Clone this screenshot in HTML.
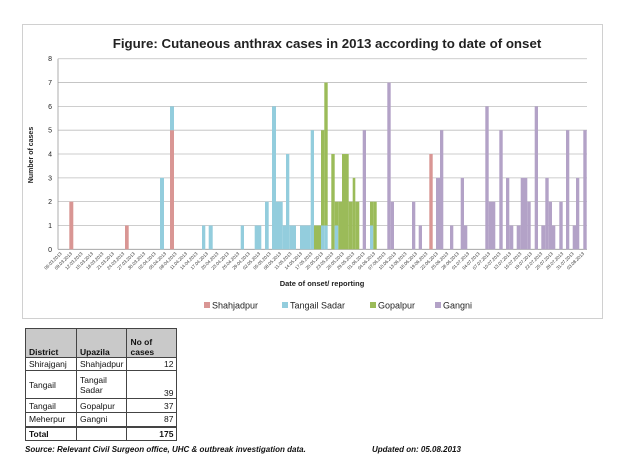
<!DOCTYPE html>
<html><head><meta charset="utf-8"><style>
body{margin:0;width:629px;height:469px;background:#fff;font-family:"Liberation Sans",sans-serif;position:relative;overflow:hidden}
table{position:absolute;left:25px;top:328px;border-collapse:collapse;font-size:8.5px;color:#111}
td{border:1px solid #444;padding:0 3px;vertical-align:middle}
.ft{position:absolute;top:445px;font-size:8px;font-weight:bold;font-style:italic;color:#111}
</style></head><body>
<svg id="s" width="629" height="330" style="position:absolute;left:0;top:0" font-family="Liberation Sans, sans-serif">
<rect x="22.5" y="24.5" width="580" height="294" fill="#fff" stroke="#d0d0d0"/>
<text x="327" y="48" text-anchor="middle" font-size="13.3" font-weight="bold" fill="#222">Figure: Cutaneous anthrax cases in 2013 according to date of onset</text>
<text transform="translate(33,155) rotate(-90)" text-anchor="middle" font-size="7" font-weight="bold" fill="#222">Number of cases</text>
<text x="322" y="286" text-anchor="middle" font-size="7.5" font-weight="bold" fill="#222">Date of onset/ reporting</text>
<g font-size="9" fill="#222">
<rect x="204" y="302" width="6" height="6" fill="#d99694"/><text x="212" y="308.5">Shahjadpur</text>
<rect x="282" y="302" width="6" height="6" fill="#93cddd"/><text x="290" y="308.5">Tangail Sadar</text>
<rect x="370" y="302" width="6" height="6" fill="#9bbb59"/><text x="378" y="308.5">Gopalpur</text>
<rect x="435" y="302" width="6" height="6" fill="#b3a2c7"/><text x="443" y="308.5">Gangni</text>
</g>
<g id="g"></g><g id="b"></g><g id="xl" font-size="4.5" fill="#333"></g>
</svg>
<table>
<tr style="background:#c9c9c9;font-weight:bold;height:29px"><td style="width:44px;vertical-align:bottom">District</td><td style="width:42px;vertical-align:bottom">Upazila</td><td style="width:43px;vertical-align:bottom">No of<br>cases</td></tr>
<tr style="height:13px"><td>Shirajganj</td><td>Shahjadpur</td><td style="text-align:right">12</td></tr>
<tr style="height:28px"><td>Tangail</td><td>Tangail<br>Sadar</td><td style="text-align:right;vertical-align:bottom">39</td></tr>
<tr style="height:14px"><td>Tangail</td><td>Gopalpur</td><td style="text-align:right">37</td></tr>
<tr style="height:14px"><td>Meherpur</td><td>Gangni</td><td style="text-align:right">87</td></tr>
<tr style="height:14px;font-weight:bold;border-top:2px solid #444"><td>Total</td><td></td><td style="text-align:right">175</td></tr>
</table>
<div class="ft" style="left:25px">Source: Relevant Civil Surgeon office, UHC &amp; outbreak investigation data.</div>
<div class="ft" style="left:372px">Updated on: 05.08.2013</div>
<script>
var ns="http://www.w3.org/2000/svg";
function el(p,t,a,txt){var e=document.createElementNS(ns,t);for(var k in a)e.setAttribute(k,a[k]);if(txt)e.textContent=txt;document.getElementById(p).appendChild(e);}
var y0=249.3,u=23.82,L=58,R=587;
for(var i=0;i<=8;i++){var y=y0-i*u;el('g','line',{x1:L,x2:R,y1:y,y2:y,stroke:i?'#bdbdbd':'#999','stroke-width':0.8});el('g','text',{x:52,y:y+2.5,'text-anchor':'end','font-size':7,fill:'#222'},''+i);}
el('g','line',{x1:L,x2:L,y1:y0-8*u,y2:y0,stroke:'#999','stroke-width':0.8});
var C={r:'#d99694',c:'#93cddd',g:'#9bbb59',p:'#b3a2c7'};
var B=[[69.3,73.3,'r',2],[125,128.7,'r',1],[160,164,'c',3],[170,174,'r',5,'c',1],[202,205.3,'c',1],[208.7,212.7,'c',1],[240.7,244,'c',1],[254.7,261.3,'c',1],[265,268.7,'c',2],[272,276,'c',6],[276,282.7,'c',2],[282.7,286,'c',1],[286,289.3,'c',4],[289.3,296,'c',1],[300,310.7,'c',1],[310.7,314,'c',5],[314,321,'g',1],[321,324.3,'c',1,'g',4],[324.3,327.7,'c',1,'g',6],[331.3,334.7,'g',4],[334.7,338.3,'c',1,'g',1],[338.3,342,'g',2],[342,348.7,'g',4],[348.7,352.7,'g',2],[352.7,355.3,'g',3],[355.3,359.3,'g',2],[362.7,366,'p',5],[370,373.3,'c',1,'g',1],[373.3,376.7,'g',2],[387.3,390.7,'p',7],[390.7,394,'p',2],[412,415.3,'p',2],[418.7,422,'p',1],[429.3,432.7,'r',4],[436,440,'p',3],[440,443.3,'p',5],[450,453.3,'p',1],[460.7,464,'p',3],[464,467.3,'p',1],[485.3,488.7,'p',6],[488.7,495.3,'p',2],[499.3,502.7,'p',5],[506,509.3,'p',3],[509.3,513.3,'p',1],[516.7,520.7,'p',1],[520.7,527.3,'p',3],[527.3,530.7,'p',2],[534.7,538,'p',6],[541.3,545.3,'p',1],[545.3,548.7,'p',3],[548.7,552,'p',2],[552,555.3,'p',1],[559.3,562.7,'p',2],[566,569.3,'p',5],[572.7,576,'p',1],[576,579.3,'p',3],[583.3,586.7,'p',5]];
B.forEach(function(b){var base=y0;for(var j=2;j<b.length;j+=2){var h=b[j+1]*u;el('b','rect',{x:b[0],y:base-h,width:b[1]-b[0],height:h,fill:C[b[j]]});base-=h;}});
var d=new Date(2013,2,6);
for(var k=0;k<51;k++){var dd=new Date(d.getTime()+k*3*864e5);var s=('0'+dd.getDate()).slice(-2)+'.'+('0'+(dd.getMonth()+1)).slice(-2)+'.2013';var x=62+k*10.45;el('xl','text',{x:x,y:254,'text-anchor':'end',transform:'rotate(-45 '+x+' 254)'},s);}
</script>
</body></html>
